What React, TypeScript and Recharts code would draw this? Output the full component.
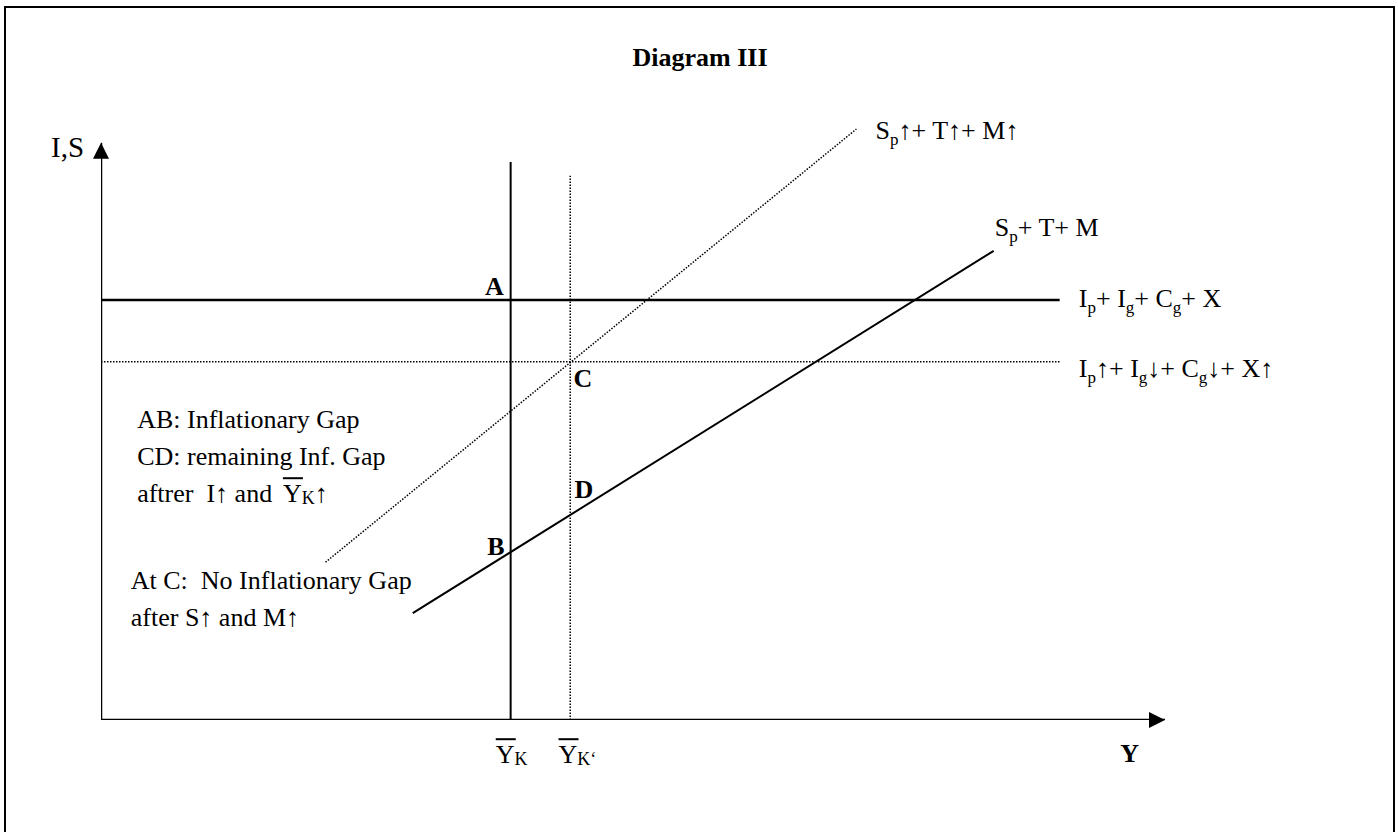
import React from 'react';
import { ComposedChart, Line, XAxis, YAxis, ReferenceDot } from 'recharts';

// Abstract units: income Y on x (0-100), injections / leakages I,S on y (0-100)

// axes, drawn as series so they go through the scales
const xAxisLine = [{ x: 0, y: 0 }, { x: 100, y: 0 }];
const yAxisLine = [{ x: 0, y: 0 }, { x: 0, y: 96.2 }];

// injections Ip + Ig + Cg + X, before and after the policy shift
const injections = [{ x: 0, y: 70 }, { x: 90.1, y: 70 }];
const injectionsShifted = [{ x: 0, y: 59.7 }, { x: 90.1, y: 59.7 }];

// leakages Sp + T + M, before and after
const leakages = [{ x: 29.3, y: 17.8 }, { x: 83.9, y: 78.2 }];
const leakagesShifted = [{ x: 21.1, y: 26.3 }, { x: 71.0, y: 98.5 }];

// full employment income, Y_K and Y_K'
const fullEmployment = [{ x: 38.5, y: 0 }, { x: 38.5, y: 93 }];
const fullEmploymentShifted = [{ x: 44.1, y: 0 }, { x: 44.1, y: 90.7 }];

const FONT = "'Liberation Serif', 'Times New Roman', serif";
const SUB_DY = 6;
const SUB_SIZE = 17;

type Part = string | { sub: string; dy?: number; size?: number };

interface Note {
  x: number;
  y: number;
  parts: Part[];
  bold?: boolean;
  size?: number;
  anchor?: 'start' | 'middle' | 'end';
  overline?: boolean;
}

const notes: Note[] = [
  { x: 56.3, y: 109, parts: ['Diagram III'], bold: true, anchor: 'middle' },
  { x: -4.7, y: 93.8, parts: ['I,S'], size: 29 },
  { x: 36.1, y: 70.8, parts: ['A'], bold: true },
  { x: 44.4, y: 55.5, parts: ['C'], bold: true },
  { x: 44.5, y: 37.0, parts: ['D'], bold: true },
  { x: 36.3, y: 27.5, parts: ['B'], bold: true },
  { x: 72.8, y: 96.8, parts: ['S', { sub: 'p' }, '↑+ T↑+ M↑'] },
  { x: 84.0, y: 80.7, parts: ['S', { sub: 'p' }, '+ T+ M'] },
  { x: 91.9, y: 68.8, parts: ['I', { sub: 'p' }, '+ I', { sub: 'g' }, '+ C', { sub: 'g' }, '+ X'] },
  { x: 91.9, y: 57.2, parts: ['I', { sub: 'p' }, '↑+ I', { sub: 'g' }, '↓+ C', { sub: 'g' }, '↓+ X↑'] },
  { x: 3.4, y: 48.7, parts: ['AB: Inflationary Gap'] },
  { x: 3.4, y: 42.5, parts: ['CD: remaining Inf. Gap'] },
  { x: 3.4, y: 36.3, parts: ['aftrer  I↑ and '] },
  { x: 17.1, y: 36.3, parts: ['Y', { sub: 'K', dy: 2, size: 18 }, '↑'], overline: true },
  { x: 2.8, y: 21.8, parts: ['At C:  No Inflationary Gap'] },
  { x: 2.8, y: 15.7, parts: ['after S↑ and M↑'] },
  { x: 37.1, y: -7.2, parts: ['Y', { sub: 'K', dy: 2, size: 18 }], overline: true },
  { x: 43.0, y: -7.2, parts: ['Y', { sub: 'K‘', dy: 2, size: 18 }], overline: true },
  { x: 95.8, y: -7.0, parts: ['Y'], bold: true },
];

function renderParts(parts: Part[]) {
  let shift = 0;
  return parts.map((p, i) => {
    if (typeof p === 'string') {
      const dy = -shift;
      shift = 0;
      return (
        <tspan key={i} dy={dy}>
          {p}
        </tspan>
      );
    }
    const target = p.dy ?? SUB_DY;
    const dy = target - shift;
    shift = target;
    return (
      <tspan key={i} dy={dy} fontSize={p.size ?? SUB_SIZE}>
        {p.sub}
      </tspan>
    );
  });
}

const lineProps = {
  dataKey: 'y',
  type: 'linear' as const,
  stroke: '#000',
  dot: false,
  activeDot: false,
  isAnimationActive: false,
  legendType: 'none' as const,
};

export default function App() {
  return (
    <div
      style={{
        position: 'absolute',
        left: 0,
        top: 0,
        width: 1398,
        height: 832,
        overflow: 'hidden',
        background: '#fff',
      }}
    >
      <div
        style={{
          position: 'absolute',
          left: 4,
          top: 6,
          width: 1387,
          height: 860,
          border: '2px solid #000',
        }}
      />
      <div style={{ position: 'absolute', left: 0, top: 0 }}>
        <ComposedChart width={1398} height={832} margin={{ top: 120, right: 233, bottom: 112, left: 101 }}>
          <XAxis type="number" dataKey="x" domain={[0, 100]} allowDataOverflow hide />
          <YAxis type="number" domain={[0, 100]} allowDataOverflow hide />

          <Line {...lineProps} data={xAxisLine} strokeWidth={2.5} />
          <Line {...lineProps} data={yAxisLine} strokeWidth={2.5} />
          <Line {...lineProps} data={injections} strokeWidth={2.5} />
          <Line {...lineProps} data={injectionsShifted} strokeWidth={1.5} strokeDasharray="1.5 1.5" />
          <Line {...lineProps} data={leakages} strokeWidth={2} />
          <Line {...lineProps} data={leakagesShifted} strokeWidth={1.5} strokeDasharray="1.5 1.5" />
          <Line {...lineProps} data={fullEmployment} strokeWidth={2} />
          <Line {...lineProps} data={fullEmploymentShifted} strokeWidth={1.5} strokeDasharray="1.5 1.5" />

          {/* arrow heads at the axis ends */}
          <ReferenceDot
            x={xAxisLine[1].x}
            y={xAxisLine[1].y}
            ifOverflow="visible"
            shape={(p: any) => (
              <polygon points={`${p.cx},${p.cy} ${p.cx - 16},${p.cy - 8} ${p.cx - 16},${p.cy + 8}`} fill="#000" />
            )}
          />
          <ReferenceDot
            x={yAxisLine[1].x}
            y={yAxisLine[1].y}
            ifOverflow="visible"
            shape={(p: any) => (
              <polygon points={`${p.cx},${p.cy} ${p.cx - 8},${p.cy + 16} ${p.cx + 8},${p.cy + 16}`} fill="#000" />
            )}
          />

          {notes.map((n, i) => (
            <ReferenceDot
              key={i}
              x={n.x}
              y={n.y}
              ifOverflow="visible"
              shape={(p: any) => (
                <g>
                  {n.overline && <line x1={p.cx} x2={p.cx + 20} y1={p.cy - 24} y2={p.cy - 24} stroke="#000" strokeWidth={2} />}
                  <text
                    x={p.cx}
                    y={p.cy}
                    fontFamily={FONT}
                    fontSize={n.size ?? 26}
                    fontWeight={n.bold ? 'bold' : 'normal'}
                    textAnchor={n.anchor ?? 'start'}
                    fill="#000"
                    style={{ whiteSpace: 'pre' }}
                  >
                    {renderParts(n.parts)}
                  </text>
                </g>
              )}
            />
          ))}
        </ComposedChart>
      </div>
    </div>
  );
}
